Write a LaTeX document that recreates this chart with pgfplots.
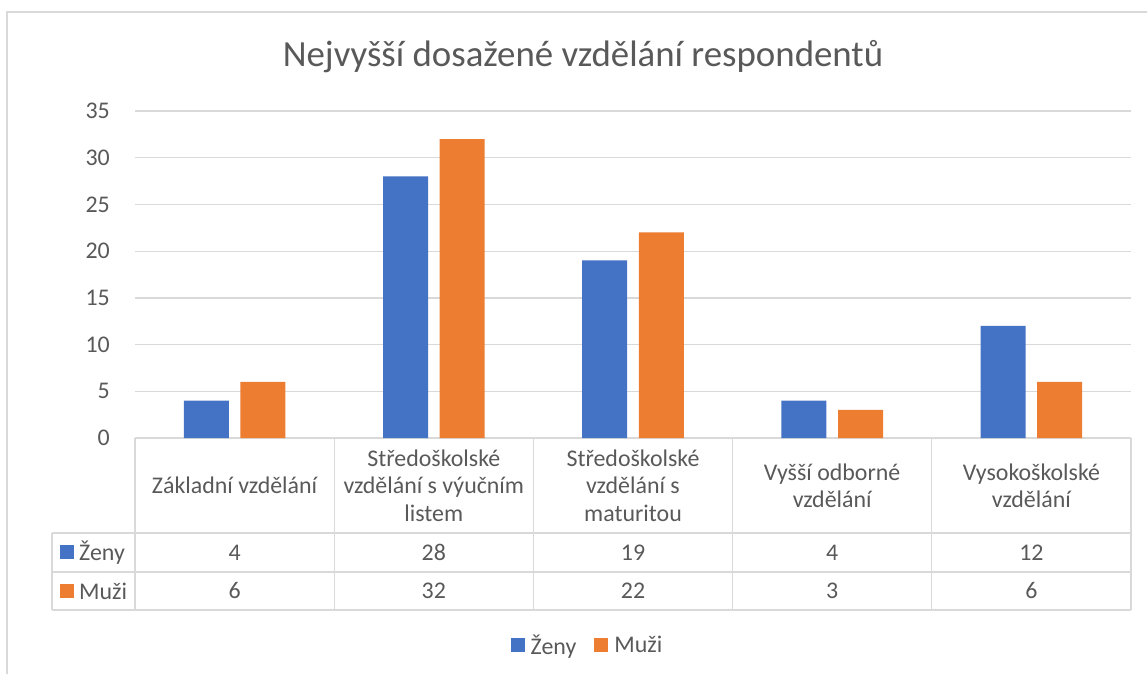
\documentclass[border=0pt]{standalone}
\usepackage{pgfplots}
\pgfplotsset{compat=1.18}
\usepackage{fontspec}
\setmainfont{Carlito}
\definecolor{cblue}{HTML}{4472C4}
\definecolor{corange}{HTML}{ED7D31}
\definecolor{ctext}{HTML}{595959}
\definecolor{cgrid}{HTML}{D9D9D9}
\begin{document}
\begin{tikzpicture}
\useasboundingbox (0bp,0bp) rectangle (1147bp,-674bp);
\draw[cgrid, line width=1.3bp] (7bp,-674bp) -- (7bp,-12bp) -- (1147bp,-12bp);
\node[text=ctext, font=\fontsize{37}{43}\selectfont, inner sep=0pt] at (583bp,-57bp) {Nejvyšší dosažené vzdělání respondentů};
\begin{axis}[
  at={(135bp,-438bp)}, anchor=south west,
  scale only axis,
  width=996bp, height=327bp,
  xmin=-0.5, xmax=4.5, ymin=0, ymax=35,
  ytick={0,5,...,35},
  xtick={0,...,4},
  xticklabels={{Základní vzdělání},{Středoškolské\\vzdělání s výučním\\listem},{Středoškolské\\vzdělání s\\maturitou},{Vyšší odborné\\vzdělání},{Vysokoškolské\\vzdělání}},
  ybar, bar width=45bp,
  axis line style={draw=none},
  major tick length=0pt,
  ymajorgrids, grid style={cgrid, line width=1.3bp},
  /pgf/number format/assume math mode=true,
  yticklabel style={text=ctext, font=\fontsize{24}{28}\selectfont, anchor=east, inner sep=0pt, xshift=-25bp},
  xticklabel style={text=ctext, font=\fontsize{24}{27.5}\selectfont, align=center, anchor=center, inner sep=0pt, yshift=-47.5bp},
  clip=false,
  legend columns=2,
  legend style={at={(0.4533,-0.633)}, anchor=center, draw=none, fill=none,
    font=\fontsize{24}{28}\selectfont, text=ctext,
    nodes={inner sep=0pt},
    /tikz/every odd column/.append style={column sep=6bp},
    /tikz/every even column/.append style={column sep=18bp}},
  legend image code/.code={\fill[#1] (0bp,-7bp) rectangle (14bp,7bp);},
]
\addplot[fill=cblue, draw=none, bar shift=-28.3bp] coordinates {(0,4) (1,28) (2,19) (3,4) (4,12)};
\addplot[fill=corange, draw=none, bar shift=28.3bp] coordinates {(0,6) (1,32) (2,22) (3,3) (4,6)};
\legend{Ženy, Muži}
\foreach \i/\z/\m in {0/4/6, 1/28/32, 2/19/22, 3/4/3, 4/12/6} {
  \edef\tmp{\noexpand\node[text=ctext, font=\noexpand\fontsize{24}{28}\noexpand\selectfont, inner sep=0pt] at (axis cs:\i,0) [yshift=-114.5bp] {\z};
  \noexpand\node[text=ctext, font=\noexpand\fontsize{24}{28}\noexpand\selectfont, inner sep=0pt] at (axis cs:\i,0) [yshift=-153bp] {\m};}
  \tmp
}
\end{axis}
% data table lines
\begin{scope}[cgrid, line width=1.3bp]
\foreach \x in {135,334.2,533.4,732.6,931.8,1131} {\draw (\x bp,-438bp) -- (\x bp,-610bp);}
\draw (52bp,-533bp) -- (52bp,-610bp);
\foreach \y in {533,572,610} {\draw (52bp,-\y bp) -- (1131bp,-\y bp);}
\end{scope}
\fill[cblue] (60bp,-545bp) rectangle (74bp,-559bp);
\fill[corange] (60bp,-584bp) rectangle (74bp,-598bp);
\node[text=ctext, font=\fontsize{24}{28}\selectfont, inner sep=0pt, anchor=west] at (79bp,-552.5bp) {Ženy};
\node[text=ctext, font=\fontsize{24}{28}\selectfont, inner sep=0pt, anchor=west] at (79bp,-591bp) {Muži};
\end{tikzpicture}
\end{document}
